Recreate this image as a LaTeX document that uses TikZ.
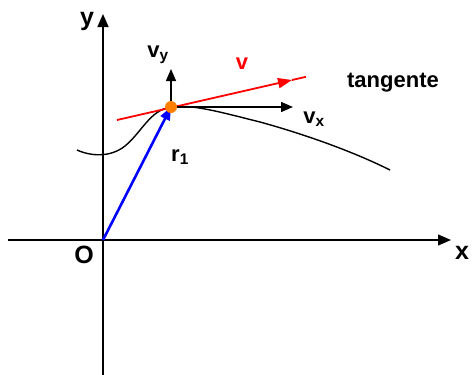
\documentclass[tikz,border=0pt]{standalone}
\usepackage{fontspec}
\setmainfont{Liberation Sans}
\usetikzlibrary{arrows.meta}
\begin{document}
\begin{tikzpicture}[x=1pt,y=-1pt,
  axis/.style={line width=1.4pt,-{Triangle[length=13pt,width=11pt]}},
  comp/.style={line width=1.4pt,-{Triangle[length=12pt,width=10pt]}},
  lbl/.style={inner sep=0pt,font=\fontsize{22}{24}\selectfont\bfseries},
  biglbl/.style={inner sep=0pt,font=\fontsize{25}{27}\selectfont\bfseries}]
\useasboundingbox (0,0) rectangle (472,375);
\coordinate (O) at (103,240);
\coordinate (xs) at (8,240);
\coordinate (xe) at (451,240);
\coordinate (ys) at (103,375);
\coordinate (ye) at (103,14);
\coordinate (P) at (171,107);
\coordinate (vyE) at (171,69);
\coordinate (vxE) at (293,107);
\coordinate (tA) at (117,120);
\coordinate (tM) at (292,80);
\coordinate (tB) at (306,76.8);
% axes
\draw[axis] (xs) -- (xe);
\draw[axis] (ys) -- (ye);
% curve
\draw[line width=1.4pt] (77,150) .. controls (90,156) and (110,158) .. (125,146)
  .. controls (142,132) and (150,110) .. (171,107)
  .. controls (192,104) and (220,112) .. (260,122)
  .. controls (300,133) and (350,150) .. (390,170);
% tangent
\draw[red,line width=1.8pt,-{Triangle[length=14pt,width=10pt]}] (tA) -- (tM);
\draw[red,line width=1.8pt] (tM) -- (tB);
% components
\draw[comp] (P) -- (vyE);
\draw[comp] (P) -- (vxE);
% r1
\draw[blue,line width=2.6pt,-{Triangle[length=13pt,width=10pt]}] (O) -- (P);
\fill[orange] (P) circle (6);
% labels
\node[biglbl] (ylab) at (87,21) {y};
\node[biglbl] (xlab) at (462,253) {x};
\node[biglbl] (Olab) at (84,255) {O};
\node[lbl] (vylab) at (158,55) {v\textsubscript{y}};
\node[lbl] (vxlab) at (314,119) {v\textsubscript{x}};
\node[lbl,red] (vlab) at (242,64) {v};
\node[lbl] (r1lab) at (180,157) {r\textsubscript{1}};
\node[lbl] (tlab) at (393,83) {tangente};
\end{tikzpicture}
\end{document}
